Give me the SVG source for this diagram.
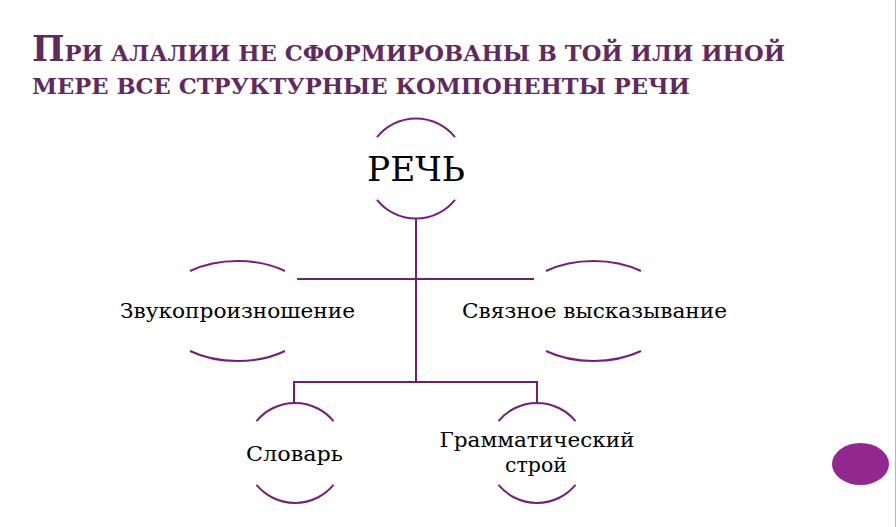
<svg xmlns="http://www.w3.org/2000/svg" width="896" height="527" viewBox="0 0 896 527">
<style>
.title{font-family:'DejaVu Serif','Liberation Serif',serif;font-weight:bold;fill:#5F2A62;}
.lbl{font-family:'DejaVu Serif','Liberation Serif',serif;fill:#000;text-anchor:middle;}
.arc{fill:none;stroke:#73207A;stroke-width:2;}
.conn{fill:none;stroke:#6E1F6E;stroke-width:2;}
</style>
<rect x="0" y="0" width="896" height="527" fill="#FFFFFF"/>
<line x1="895.5" y1="0" x2="895.5" y2="527" stroke="#BCAFBE" stroke-width="1"/>
<g id="title">
<text class="title" x="32" y="61" textLength="753" lengthAdjust="spacingAndGlyphs"><tspan font-size="35">П</tspan><tspan font-size="23">РИ АЛАЛИИ НЕ СФОРМИРОВАНЫ В ТОЙ ИЛИ ИНОЙ</tspan></text>
<text class="title" x="32" y="94" font-size="23" textLength="658" lengthAdjust="spacingAndGlyphs">МЕРЕ ВСЕ СТРУКТУРНЫЕ КОМПОНЕНТЫ РЕЧИ</text>
</g>
<g id="connectors">
<path class="conn" d="M416,218 V382"/>
<path class="conn" d="M297,279 H534"/>
<path class="conn" d="M294,382 H537"/>
<path class="conn" d="M294,381 V403"/>
<path class="conn" d="M537,381 V403"/>
</g>
<g id="node-rech">
<path class="arc" d="M377,137.2 A50,50 0 0 1 455,137.2"/>
<path class="arc" d="M377,199.8 A50,50 0 0 0 455,199.8"/>
<text class="lbl" x="416" y="181" font-size="33" textLength="98" lengthAdjust="spacingAndGlyphs">РЕЧЬ</text>
</g>
<g id="node-zvuk">
<path class="arc" d="M190,271 A79,50 0 0 1 285,271"/>
<path class="arc" d="M190,351 A79,50 0 0 0 285,351"/>
<text class="lbl" x="237.5" y="318" font-size="21" textLength="235" lengthAdjust="spacingAndGlyphs">Звукопроизношение</text>
</g>
<g id="node-svyaz">
<path class="arc" d="M546,271 A79,50 0 0 1 641,271"/>
<path class="arc" d="M546,351 A79,50 0 0 0 641,351"/>
<text class="lbl" x="594.5" y="318" font-size="21" textLength="265" lengthAdjust="spacingAndGlyphs">Связное высказывание</text>
</g>
<g id="node-slovar">
<path class="arc" d="M256.5,421.1 A50,50 0 0 1 333.5,421.1"/>
<path class="arc" d="M256.5,484.9 A50,50 0 0 0 333.5,484.9"/>
<text class="lbl" x="294.5" y="461" font-size="21" textLength="97" lengthAdjust="spacingAndGlyphs">Словарь</text>
</g>
<g id="node-gramm">
<path class="arc" d="M498.5,421.1 A50,50 0 0 1 575.5,421.1"/>
<path class="arc" d="M498.5,484.9 A50,50 0 0 0 575.5,484.9"/>
<text class="lbl" x="537" y="447" font-size="21" textLength="195" lengthAdjust="spacingAndGlyphs">Грамматический</text>
<text class="lbl" x="536" y="472" font-size="21" textLength="62" lengthAdjust="spacingAndGlyphs">строй</text>
</g>
<ellipse cx="860.5" cy="464" rx="28.5" ry="21" fill="#92278F"/>
</svg>
